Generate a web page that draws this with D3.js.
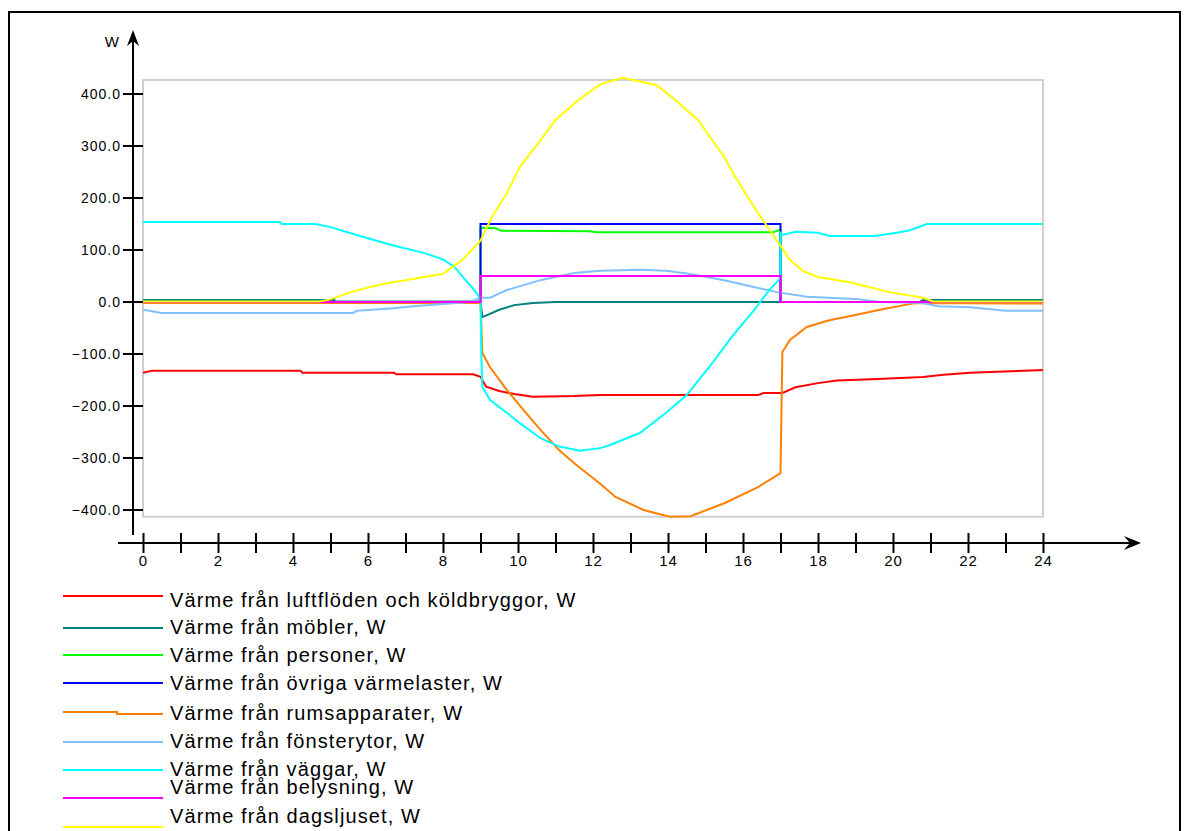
<!DOCTYPE html>
<html>
<head>
<meta charset="utf-8">
<script src="https://cdn.jsdelivr.net/npm/d3@7/dist/d3.min.js"></script>
<style>
  html, body { margin: 0; padding: 0; background: #fff; }
  svg { display: block; }
  text { font-family: "Liberation Sans", Arial, sans-serif; fill: #000; }
</style>
</head>
<body>
<svg id="chart" width="1188" height="831"></svg>
<script>
// Hourly heat balance of a room, W. Each series: [hour, watts].
const luftfloden = [[0,-136],[0.25,-132],[4.2,-132],[4.25,-136],[6.7,-136],[6.75,-139],[8.8,-139],[9,-144],[9.15,-163],[9.5,-171],[9.9,-177],[10.4,-182],[11.5,-181],[12.2,-179],[16.4,-179],[16.55,-175],[17.05,-175],[17.4,-164],[18,-156],[18.5,-151],[19.6,-148],[20.8,-144],[21.35,-140],[22.05,-136],[23.5,-132],[24,-131]];
const mobler = [[0,4],[5.1,4],[5.1,1],[9,1],[9.05,-29],[9.5,-15],[9.9,-6],[10.4,-2],[11,0],[17,0],[20.7,0],[20.8,4],[24,4]];
const personer = [[0,0],[9,0],[9,143],[9.4,142],[9.55,137],[11.9,136],[12.1,134],[16.8,134],[16.95,138],[17,138],[17,0],[24,0]];
const ovriga = [[0,0],[9,0],[9,150],[17,150],[17,0],[24,0]];
const rumsapparater = [[0,-2],[9,-2],[9.05,-98],[9.25,-125],[9.7,-169],[10.15,-208],[10.6,-246],[11.1,-285],[11.5,-310],[12.2,-350],[12.6,-375],[13.35,-400],[14.05,-413],[14.6,-412],[15.5,-387],[16.4,-356],[17,-329],[17.05,-96],[17.25,-73],[17.7,-48],[18.3,-35],[19,-25],[19.65,-15],[20.3,-6],[20.6,-2],[24,-3]];
const fonsterytor = [[0,-15],[0.5,-21],[5.6,-21],[5.7,-17],[6.7,-12],[7.2,-8],[8,-4],[8.7,0],[9,8],[9.25,8],[9.7,23],[10.6,42],[11.5,56],[12.2,60],[13.25,62],[13.95,60],[14.6,54],[15.5,42],[16.4,27],[16.9,19],[17.7,10],[19,6],[19.65,0],[20.8,-2],[21.2,-8],[22.05,-10],[23,-17],[24,-17]];
const vaggar = [[0,154],[3.65,154],[3.7,150],[4.6,150],[5,144],[5.7,129],[6.6,110],[7.5,94],[8,82],[8.3,68],[8.6,42],[8.9,17],[9,5],[9.02,-98],[9.05,-163],[9.25,-188],[9.7,-213],[10.05,-233],[10.6,-262],[11.1,-278],[11.65,-286],[12.2,-281],[12.45,-275],[13.25,-252],[13.95,-213],[14.5,-179],[15.1,-125],[15.7,-67],[16.3,-15],[16.7,23],[17,46],[17,133],[17.05,129],[17.4,135],[18,133],[18.3,127],[19.5,127],[20.1,133],[20.45,138],[20.9,150],[24,150]];
const belysning = [[0,0],[9,0],[9,50],[17,50],[17,0],[24,0]];
const dagsljuset = [[0,1],[4.7,1],[5,5],[5.5,18],[6,28],[6.5,36],[7,42],[7.5,48],[8,54],[8.5,80],[9,118],[9.3,163],[9.7,209],[10.05,260],[10.6,311],[11,350],[11.6,388],[12.2,419],[12.8,431],[13.7,417],[14.1,394],[14.8,350],[15.5,279],[15.8,240],[16.4,171],[16.9,119],[17.25,81],[17.6,60],[18,48],[18.85,38],[19.9,19],[20.8,8],[21.07,1],[24,1]];

const seriesNames = [
  "Värme från luftflöden och köldbryggor, W",
  "Värme från möbler, W",
  "Värme från personer, W",
  "Värme från övriga värmelaster, W",
  "Värme från rumsapparater, W",
  "Värme från fönsterytor, W",
  "Värme från väggar, W",
  "Värme från belysning, W",
  "Värme från dagsljuset, W"
];
const seriesValues = [luftfloden, mobler, personer, ovriga, rumsapparater, fonsterytor, vaggar, belysning, dagsljuset];
const seriesColors = ["#ff0000", "#008080", "#00ff00", "#0000ff", "#ff8000", "#80c0ff", "#00ffff", "#ff00ff", "#ffff00"];

const xTicks = d3.range(0, 25, 1);
const xTickLabels = d3.range(0, 25, 2);
const yTicks = [-400, -300, -200, -100, 0, 100, 200, 300, 400];
const yUnit = "W";
const plotRange = [-413, 427];

const svg = d3.select("#chart");

// outer frame
svg.append("rect")
  .attr("x", 9).attr("y", 12).attr("width", 1171).attr("height", 840)
  .attr("fill", "none").attr("stroke", "#000").attr("stroke-width", 2);

const x = d3.scaleLinear().domain([0, 24]).range([143, 1043]);
const y = d3.scaleLinear().domain([-400, 400]).range([510, 94]);

// plot box
svg.append("rect")
  .attr("x", x(0)).attr("y", y(plotRange[1]))
  .attr("width", x(24) - x(0)).attr("height", y(plotRange[0]) - y(plotRange[1]))
  .attr("fill", "none").attr("stroke", "#d0d0d0").attr("stroke-width", 2);

// y axis
const yAxisX = 133;
svg.append("line")
  .attr("x1", yAxisX).attr("x2", yAxisX).attr("y1", 34).attr("y2", 535)
  .attr("stroke", "#000").attr("stroke-width", 2);
svg.append("path")
  .attr("d", `M${yAxisX},30 L${yAxisX - 6},46 L${yAxisX},41 L${yAxisX + 6},46 Z`)
  .attr("fill", "#000");
svg.append("text")
  .attr("x", 119).attr("y", 47).attr("text-anchor", "end")
  .style("font-size", "15px").text(yUnit);

const yAxis = d3.axisLeft(y).tickValues(yTicks).tickSize(0)
  .tickFormat(d3.format(".1f"));
const gy = svg.append("g").attr("transform", `translate(${yAxisX - 11},0)`).call(yAxis);
gy.select(".domain").remove();
gy.selectAll("text").style("font-size", "14px").style("font-family", "'Liberation Sans', Arial, sans-serif")
  .attr("x", -1).attr("letter-spacing", "1px").attr("dy", "0.35em");
svg.selectAll(".ytick").data(yTicks).enter().append("line")
  .attr("x1", yAxisX - 10).attr("x2", x(0)).attr("y1", d => y(d)).attr("y2", d => y(d))
  .attr("stroke", "#000").attr("stroke-width", 2);

// x axis
const xAxisY = 543;
svg.append("line")
  .attr("x1", 118).attr("x2", 1136).attr("y1", xAxisY).attr("y2", xAxisY)
  .attr("stroke", "#000").attr("stroke-width", 2);
svg.append("path")
  .attr("d", `M1141,${xAxisY} L1124,${xAxisY - 7} L1130,${xAxisY} L1124,${xAxisY + 7} Z`)
  .attr("fill", "#000");
const xAxis = d3.axisBottom(x).tickValues(xTicks).tickSizeInner(10).tickSizeOuter(0)
  .tickFormat(d => xTickLabels.includes(d) ? String(d) : "");
const gx = svg.append("g").attr("transform", `translate(0,${xAxisY})`).call(xAxis);
gx.select(".domain").remove();
gx.selectAll(".tick line").attr("y1", -10).attr("stroke", "#000").attr("stroke-width", 2);
gx.selectAll("text").style("font-size", "15px").style("font-family", "'Liberation Sans', Arial, sans-serif")
  .attr("y", 12).attr("letter-spacing", "1px").attr("fill", "#000");

// series
const line = d3.line().x(d => x(d[0])).y(d => y(d[1]));
svg.append("g").selectAll("path").data(seriesValues).enter().append("path")
  .attr("d", line)
  .attr("fill", "none")
  .attr("stroke", (d, i) => seriesColors[i])
  .attr("stroke-width", 2)
  .attr("stroke-linejoin", "miter");

// legend
const legendLineY = [596, 628, 655, 683, 713, 742, 770, 798, 827];
const legendTextY = [607, 634, 662, 690, 720, 748, 776, 794, 823];
const lg = svg.append("g");
seriesNames.forEach((name, i) => {
  const ly = legendLineY[i];
  const d = i === 4
    ? `M63,${ly - 1} L117,${ly - 1} L117,${ly + 1} L163,${ly + 1}`
    : `M63,${ly} L163,${ly}`;
  lg.append("path").attr("d", d).attr("fill", "none")
    .attr("stroke", seriesColors[i]).attr("stroke-width", 2);
  lg.append("text").attr("x", 170).attr("y", legendTextY[i])
    .attr("letter-spacing", "1.1px")
    .style("font-size", "20px").text(name);
});
</script>
</body>
</html>
